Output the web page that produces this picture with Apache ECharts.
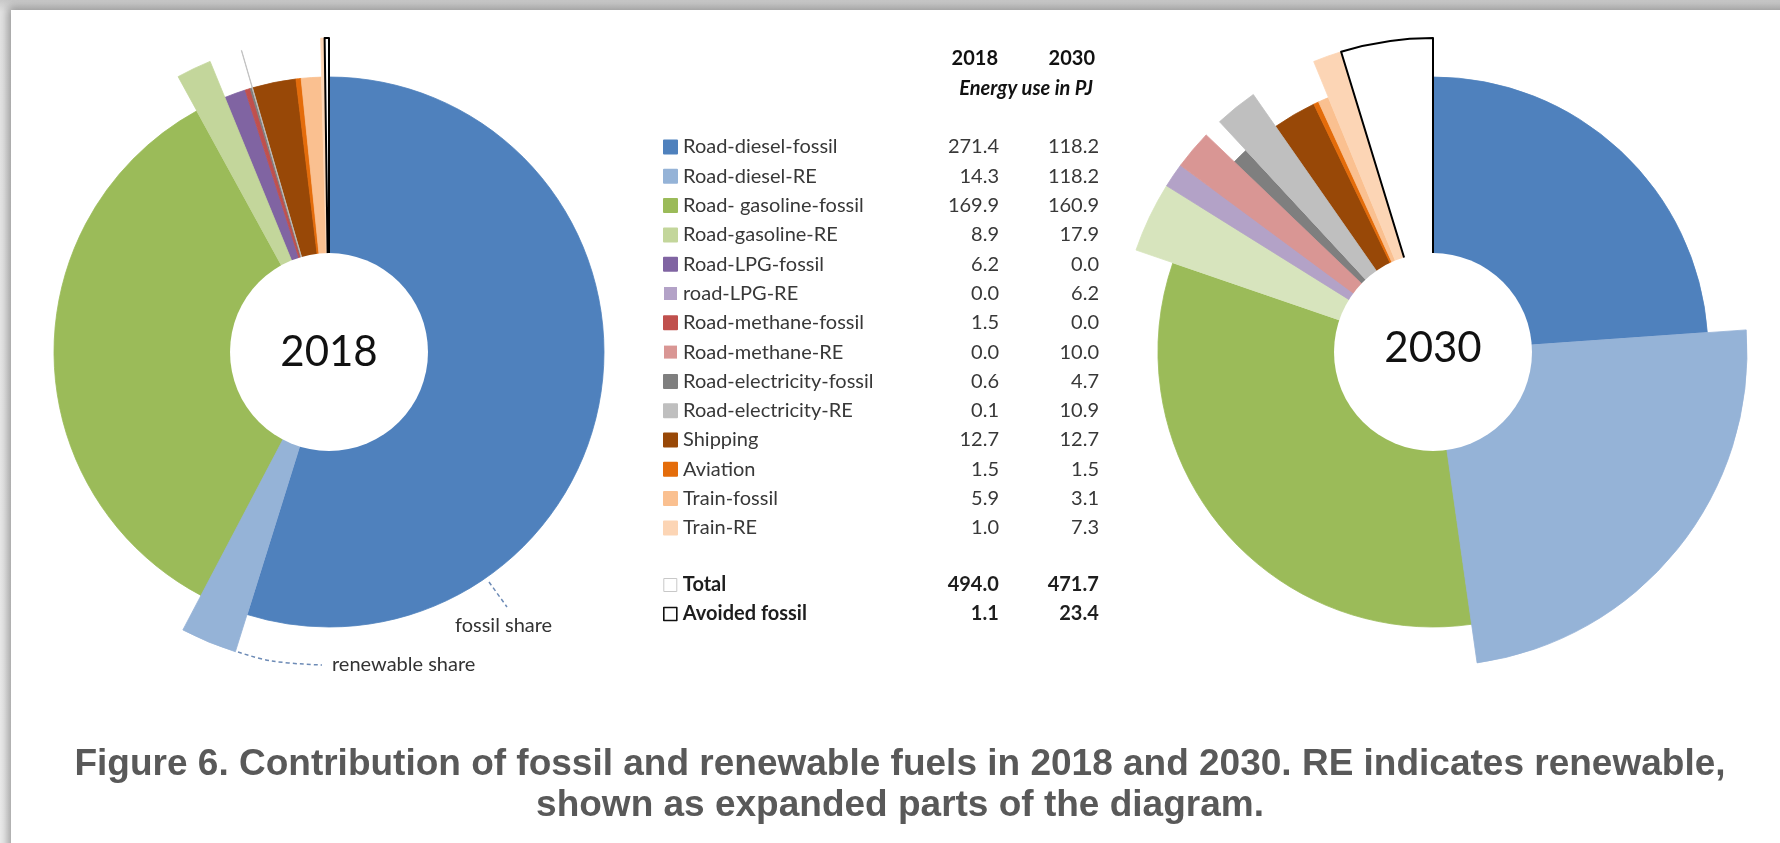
<!DOCTYPE html>
<html>
<head>
<meta charset="utf-8">
<script src="https://cdn.jsdelivr.net/npm/echarts@6/dist/echarts.min.js"></script>
<style>
html,body{margin:0;padding:0;width:1780px;height:843px;overflow:hidden;background:linear-gradient(#c9c9c9,#e4e4e4 12px,#ececec);}
#page{position:absolute;left:11px;top:10px;width:1800px;height:880px;background:#fff;box-shadow:0 0 9px 3px rgba(0,0,0,0.35);}
#chart{position:absolute;left:0;top:0;width:1780px;height:843px;}
</style>
</head>
<body>
<div id="page"></div>
<div id="chart"></div>
<script>
// ---- data ----
const categories = ['Road-diesel-fossil','Road-diesel-RE','Road- gasoline-fossil','Road-gasoline-RE','Road-LPG-fossil','road-LPG-RE','Road-methane-fossil','Road-methane-RE','Road-electricity-fossil','Road-electricity-RE','Shipping','Aviation','Train-fossil','Train-RE'];
const values2018 = [271.4, 14.3, 169.9, 8.9, 6.2, 0.0, 1.5, 0.0, 0.6, 0.1, 12.7, 1.5, 5.9, 1.0];
const values2030 = [118.2, 118.2, 160.9, 17.9, 0.0, 6.2, 0.0, 10.0, 4.7, 10.9, 12.7, 1.5, 3.1, 7.3];
const isRenewable = [false, true, false, true, false, true, false, true, false, true, false, false, false, true];
const years = ['2018', '2030'];
const totals = [494.0, 471.7];
const avoidedFossil = [1.1, 23.4];
const unitLabel = 'Energy use in PJ';
const annotations = ['fossil share', 'renewable share'];
const captionLines = ['Figure 6. Contribution of fossil and renewable fuels in 2018 and 2030. RE indicates renewable,', 'shown as expanded parts of the diagram.'];

// ---- styles ----
const colors2018 = ['#4F81BD','#95B3D7','#9BBB59','#C3D69B','#8064A2','#B3A2C7','#C0504D','#D99694','#7F7F7F','#BFBFBF','#984807','#E46C0A','#FAC090','#FCD5B5'];
const colors2030 = colors2018.map((c, i) => i === 3 ? '#D7E4BD' : c);
const FONT = 'Lato';
const centers = [[329, 352], [1433, 352]];
const NONE = 'rgba(0,0,0,0)';

// layer 'base': every slice at the normal radius; layer 'expanded': only the renewable
// slices (and avoided fossil) at the larger radius, same angles.
function pieData(vals, avoided, colors, expanded) {
  const d = categories.map((name, i) => {
    const visible = expanded ? isRenewable[i] : true;
    return {
      name: name,
      value: vals[i],
      itemStyle: visible
        ? { color: colors[i], borderColor: colors[i], borderWidth: vals[i] > 0 ? 0.8 : 0 }
        : { color: NONE, borderWidth: 0 }
    };
  });
  d.push({ name: 'Total', value: 0, itemStyle: { color: NONE, borderWidth: 0 } });
  d.push({ name: 'Avoided fossil', value: avoided,
           itemStyle: expanded ? { color: '#fff', borderColor: '#000', borderWidth: 2 }
                               : { color: NONE, borderWidth: 0 } });
  return d;
}

function pieSeries(k, vals, colors, expanded) {
  return {
    type: 'pie', name: (expanded ? 're' : 'pie') + years[k], center: centers[k],
    radius: [0, expanded ? 314 : 275],
    startAngle: 90, clockwise: true, selectedMode: false,
    silent: true, animation: false, label: { show: false }, labelLine: { show: false },
    emphasis: { disabled: true }, z: expanded ? 3 : 2,
    data: pieData(vals, avoidedFossil[k], colors, expanded)
  };
}

function holeSeries(k, dy) {
  return {
    type: 'pie', name: 'hole' + years[k], center: centers[k], radius: [0, 99],
    silent: true, animation: false, z: 4, emphasis: { disabled: true },
    label: { show: true, position: 'center', formatter: years[k], fontSize: 42,
             fontFamily: FONT, color: '#111', offset: [0, dy] },
    labelLine: { show: false },
    data: [{ value: 1, name: years[k], itemStyle: { color: '#fff' } }]
  };
}

const rowText = { fontSize: 20, fontFamily: FONT, color: '#383838', lineHeight: 22 };
const rowBold = Object.assign({}, rowText, { fontWeight: 'bold', color: '#1e1e1e' });

const chart = echarts.init(document.getElementById('chart'), null, { renderer: 'canvas' });
chart.setOption({
  animation: false,
  legend: [
    {
      orient: 'vertical', left: 658, top: 132, itemWidth: 13, itemHeight: 13, itemGap: 9.3,
      icon: 'rect', selectedMode: false, data: categories,
      formatter: function (name) {
        const i = categories.indexOf(name);
        return '{n|' + name + '}{a|' + values2018[i].toFixed(1) + '}{b|' + values2030[i].toFixed(1) + '}';
      },
      textStyle: {
        padding: [0, 0, 0, 1],
        rich: {
          n: Object.assign({ width: 216 }, rowText),
          a: Object.assign({ width: 100, align: 'right' }, rowText),
          b: Object.assign({ width: 100, align: 'right' }, rowText)
        }
      }
    },
    {
      orient: 'vertical', left: 658, top: 570, itemWidth: 13, itemHeight: 13, itemGap: 9,
      icon: 'rect', selectedMode: false,
      data: [
        { name: 'Total', itemStyle: { color: '#fff', borderColor: '#c8c8c8', borderWidth: 1 } },
        { name: 'Avoided fossil', itemStyle: { color: '#fff', borderColor: '#111', borderWidth: 1.6 } }
      ],
      formatter: function (name) {
        const v = name === 'Total' ? totals : avoidedFossil;
        return '{n|' + name + '}{a|' + v[0].toFixed(1) + '}{b|' + v[1].toFixed(1) + '}';
      },
      textStyle: {
        padding: [0, 0, 0, 1],
        rich: {
          n: Object.assign({ width: 216 }, rowBold),
          a: Object.assign({ width: 100, align: 'right' }, rowBold),
          b: Object.assign({ width: 100, align: 'right' }, rowBold)
        }
      }
    }
  ],
  series: [
    pieSeries(0, values2018, colors2018, false),
    pieSeries(0, values2018, colors2018, true),
    holeSeries(0, 0),
    pieSeries(1, values2030, colors2030, false),
    pieSeries(1, values2030, colors2030, true),
    holeSeries(1, -4)
  ],
  graphic: [
    { type: 'text', x: 998, y: 59, silent: true, style: { text: years[0], textAlign: 'right', textVerticalAlign: 'middle', font: 'bold 20px ' + FONT, fill: '#111' } },
    { type: 'text', x: 1095, y: 59, silent: true, style: { text: years[1], textAlign: 'right', textVerticalAlign: 'middle', font: 'bold 20px ' + FONT, fill: '#111' } },
    { type: 'text', x: 1093, y: 89, silent: true, style: { text: unitLabel, textAlign: 'right', textVerticalAlign: 'middle', font: 'italic bold 20px ' + FONT, fill: '#111' } },
    { type: 'polyline', silent: true, shape: { points: [[489, 582], [507, 607]] }, style: { stroke: '#6d8bb6', lineWidth: 1.5, lineDash: [4, 3], fill: null } },
    { type: 'text', x: 455, y: 626, silent: true, style: { text: annotations[0], textVerticalAlign: 'middle', font: '20px ' + FONT, fill: '#333' } },
    { type: 'polyline', silent: true, shape: { points: [[238, 652], [272, 661], [322, 665]], smooth: 0.4 }, style: { stroke: '#6d8bb6', lineWidth: 1.5, lineDash: [4, 3], fill: null } },
    { type: 'text', x: 332, y: 665, silent: true, style: { text: annotations[1], textVerticalAlign: 'middle', font: '20px ' + FONT, fill: '#333' } },
    { type: 'text', x: 900, y: 765, silent: true, style: { text: captionLines[0], textAlign: 'center', textVerticalAlign: 'middle', font: 'bold 37px "Liberation Sans"', fill: '#595959' } },
    { type: 'text', x: 900, y: 806, silent: true, style: { text: captionLines[1], textAlign: 'center', textVerticalAlign: 'middle', font: 'bold 37px "Liberation Sans"', fill: '#595959' } }
  ]
});
</script>
</body>
</html>
